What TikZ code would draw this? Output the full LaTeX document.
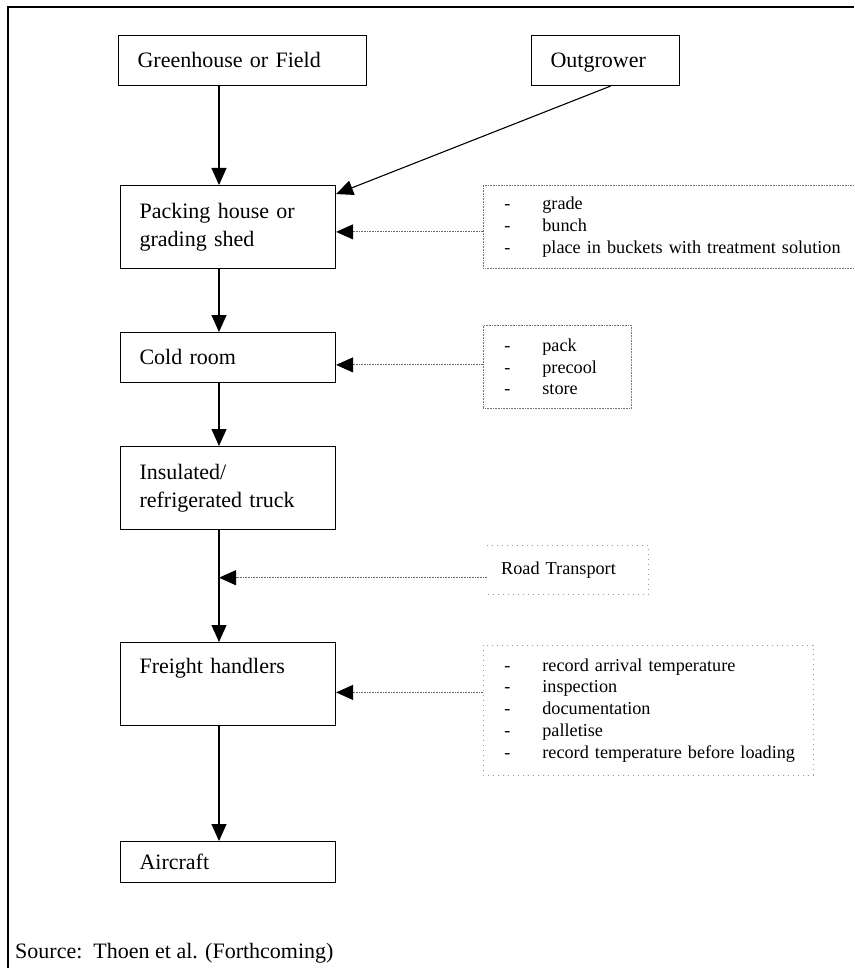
\documentclass[tikz,border=0pt]{standalone}
\usepackage{fontspec}
\setmainfont{Liberation Serif}
\usetikzlibrary{arrows.meta}
\newcommand{\mainsz}{\fontsize{22}{28}\selectfont}
\newcommand{\notesz}{\fontsize{18.2}{21.8}\selectfont}
\newcommand{\itm}[1]{\makebox[38pt][l]{-}\mbox{#1}}
% line strut for one-line stage labels
\newcommand{\lstrut}{\rule[-4pt]{0pt}{22pt}}

\begin{document}
\begin{tikzpicture}[x=1pt,y=-1pt,
  stage/.style={draw, line width=1.1pt, rectangle, inner xsep=19pt, inner ysep=0pt,
                align=left, font=\mainsz, anchor=north west},
  notebox/.style={draw=black!55, line width=0.8pt, dash pattern=on 0.8pt off 0.8pt,
                  rectangle, inner ysep=0pt, align=left, font=\notesz, anchor=north west},
  faintbox/.style={draw=black!40, line width=0.8pt, dash pattern=on 1pt off 4pt,
                   rectangle, inner ysep=0pt, align=left, font=\notesz, anchor=north west},
  flow/.style={line width=1.1pt, -{Triangle[length=17pt,width=15pt]}},
  feed/.style={draw=black!60, line width=0.9pt, dash pattern=on 0.8pt off 0.8pt,
               -{Triangle[length=17pt,width=15pt,color=black]}},
]
\useasboundingbox (0,0) rectangle (854,968);
\begin{scope}
\clip (0,0) rectangle (854,968);

% page frame (left and top rules)
\draw[line width=2pt] (8,968) -- (8,7) -- (854,7);

% column along which the main flow runs
\coordinate (col) at (219,0);

% stages of the chain
\node[stage, minimum width=248, minimum height=50, text width=210] (gh) at (118,35) {\lstrut Greenhouse or Field};
\node[stage, minimum width=148, minimum height=50, text width=110] (og) at (531,35) {\lstrut Outgrower};
\node[stage, minimum width=215, minimum height=83, text width=177] (pack) at (120,185) {Packing house or\\grading shed};
\node[stage, minimum width=215, minimum height=50, text width=177] (cold) at (120,332) {\lstrut Cold room};
\node[stage, minimum width=215, minimum height=83, text width=177] (truck) at (120,446) {Insulated/\\refrigerated truck};
\node[stage, minimum width=215, minimum height=83, text width=177] (freight) at (120,642) {Freight handlers\\\strut};
\node[stage, minimum width=215, minimum height=41, text width=177] (air) at (120,841) {\lstrut Aircraft};

% activity notes
\node[notebox, minimum width=402, minimum height=83, inner xsep=21pt, text width=360] (n1) at (483,185)
  {\itm{grade}\\\itm{bunch}\\\itm{place in buckets with treatment solution}};
\node[notebox, minimum width=148, minimum height=83, inner xsep=21pt, text width=106] (n2) at (483,325)
  {\itm{pack}\\\itm{precool}\\\itm{store}};
\node[anchor=north west, minimum width=161, minimum height=49, inner xsep=14pt, inner ysep=0pt,
      text width=133, align=left, font=\notesz] (road) at (487,545) {Road Transport};
\draw[draw=black!40, line width=0.8pt, dash pattern=on 1pt off 4pt]
  (road.north west) -- (road.north east) -- (road.south east) -- (road.south west);
\node[faintbox, minimum width=330, minimum height=130, inner xsep=21pt, text width=288] (n4) at (483,645)
  {\itm{record arrival temperature}\\\itm{inspection}\\\itm{documentation}\\\itm{palletise}\\\itm{record temperature before loading}};

% main flow
\draw[flow] (gh.south -| col) -- (pack.north -| col);
\draw[flow] ([xshift=5pt]og.south) -- ([yshift=33pt]pack.east);
\draw[flow] (pack.south -| col) -- (cold.north -| col);
\draw[flow] (cold.south -| col) -- (truck.north -| col);
\draw[flow] (truck.south -| col) -- (freight.north -| col);
\draw[flow] (freight.south -| col) -- (air.north -| col);

% activities feeding the stages
\draw[feed] ([yshift=-5pt]n1.west) -- ([yshift=-5pt]n1.west -| pack.east);
\draw[feed] ([yshift=2pt]n2.west) -- ([yshift=2pt]n2.west -| cold.east);
\draw[feed] ([yshift=-8pt]road.west) -- ([yshift=-8pt]road.west -| col);
\draw[feed] ([yshift=18pt]n4.west) -- ([yshift=18pt]n4.west -| freight.east);

% source line
\node[anchor=base west, font=\mainsz, inner sep=0pt] (src) at (15,958) {Source:\ \ Thoen et al. (Forthcoming)};
\end{scope}
\end{tikzpicture}
\end{document}
